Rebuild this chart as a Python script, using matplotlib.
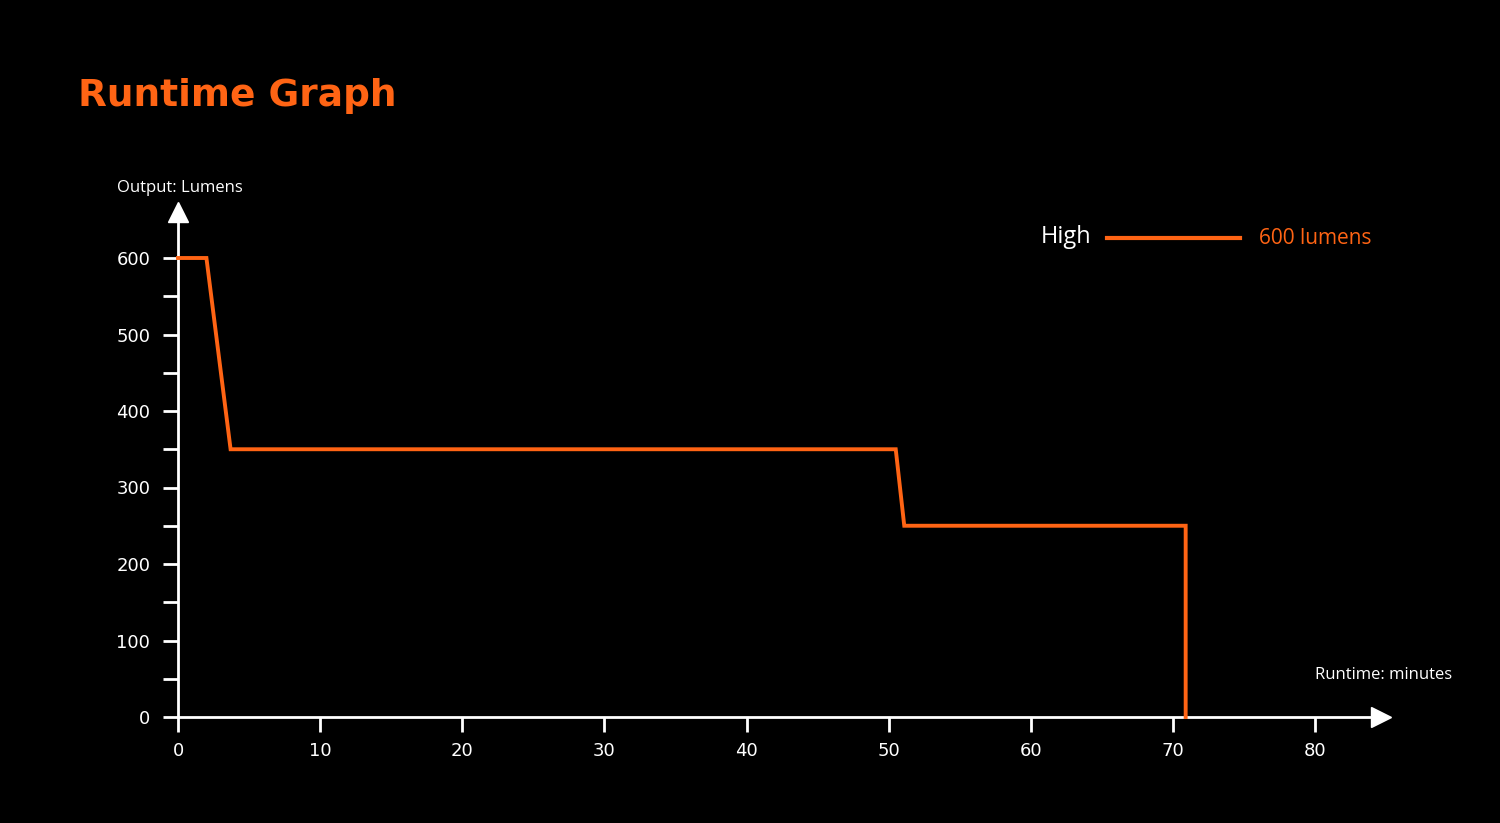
import matplotlib
matplotlib.use("Agg")
import matplotlib.pyplot as plt

# runtime curve, High mode
runtime_min = [0, 2, 3.7, 50.5, 51.1, 70.9, 70.9]
lumens = [600, 600, 350, 350, 250, 250, 0]

x_ticks = [0, 10, 20, 30, 40, 50, 60, 70, 80]
y_ticks = [0, 100, 200, 300, 400, 500, 600]
y_minor = [50, 150, 250, 350, 450, 550]

ORANGE = "#ff6414"
BG = "#000000"
FG = "#ffffff"

fig = plt.figure(figsize=(15, 8.23), dpi=100, facecolor=BG)
# axes box ends where the arrow heads sit (pixel layout of the reference)
ax = fig.add_axes([178 / 1500, 106 / 823, 1203 / 1500, 505 / 823])
ax.set_facecolor(BG)
ax.set_xlim(0, 1203 / 1137 * 80)
ax.set_ylim(0, 505 / 459 * 600)

ax.plot(runtime_min, lumens, color=ORANGE, lw=2.8, solid_joinstyle="miter", clip_on=False, zorder=3)

for s in ["top", "right"]:
    ax.spines[s].set_visible(False)
for s in ["left", "bottom"]:
    ax.spines[s].set_color(FG)
    ax.spines[s].set_linewidth(2)

# arrow heads at the ends of the axes
ax.plot(1, 0, marker=">", ms=14, color=FG, transform=ax.transAxes, clip_on=False)
ax.plot(0, 1, marker="^", ms=14, color=FG, transform=ax.transAxes, clip_on=False)

ax.set_xticks(x_ticks)
ax.set_yticks(y_ticks)
ax.set_yticks(y_minor, minor=True)
ax.tick_params(axis="both", colors=FG, width=2, length=11, labelsize=13, pad=9)
ax.tick_params(axis="y", which="minor", colors=FG, width=2, length=11)
ax.tick_params(axis="x", pad=7)
for lbl in ax.get_xticklabels() + ax.get_yticklabels():
    lbl.set_family("DejaVu Sans")

fig.text(78 / 1500, 1 - 96 / 823, "Runtime Graph", color=ORANGE, fontsize=27,
         fontweight="bold", va="center", ha="left", family="DejaVu Sans")
fig.text(180 / 1500, 1 - 188 / 823, "Output: Lumens", color=FG, fontsize=12,
         va="center", ha="center", family="Open Sans")
fig.text(1384 / 1500, 1 - 675 / 823, "Runtime: minutes", color=FG, fontsize=12,
         va="center", ha="center", family="Open Sans")

# legend
fig.text(1066 / 1500, 1 - 237 / 823, "High", color=FG, fontsize=17,
         va="center", ha="center", family="Open Sans")
fig.add_artist(plt.Line2D([1107 / 1500, 1240 / 1500], [1 - 238 / 823] * 2,
                          color=ORANGE, lw=3, transform=fig.transFigure))
fig.text(1259 / 1500, 1 - 238 / 823, "600 lumens", color=ORANGE, fontsize=15,
         va="center", ha="left", family="Open Sans")

fig.savefig("out.png", dpi=100, facecolor=BG)
